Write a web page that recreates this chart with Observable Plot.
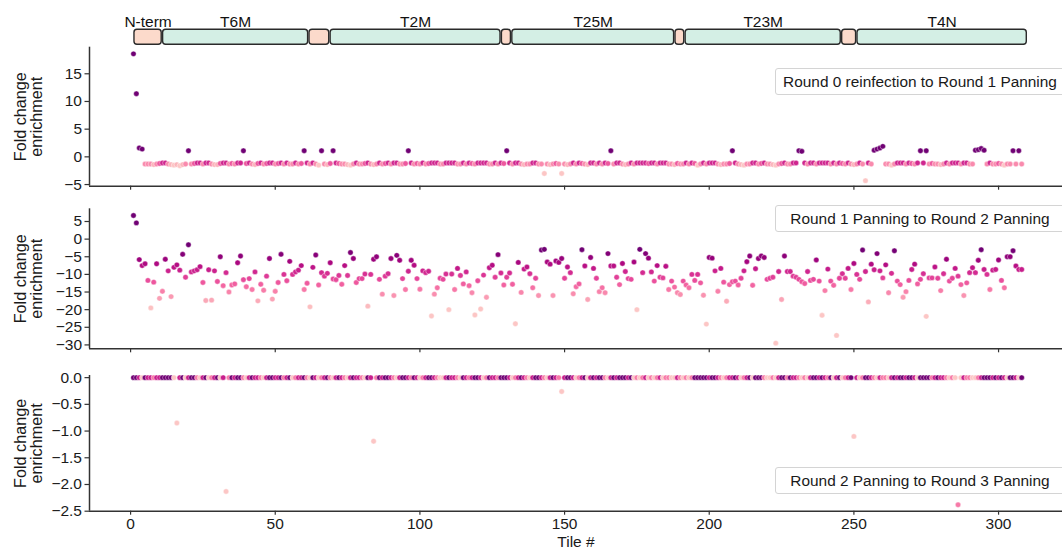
<!DOCTYPE html>
<html>
<head>
<meta charset="utf-8">
<script src="https://cdn.jsdelivr.net/npm/d3@7"></script>
<script src="https://cdn.jsdelivr.net/npm/@observablehq/plot@0.6"></script>
<style>
  html, body { margin: 0; padding: 0; background: #fff; }
  #wrap { position: relative; width: 1062px; height: 549px; overflow: hidden; background: #fff;
          font-family: "Liberation Sans", Arial, Helvetica, sans-serif; color: #1a1a1a; }
  .slot { position: absolute; left: 0; }
  .leg { position: absolute; left: 775px; width: 288px; height: 25px; line-height: 25px;
         border: 1px solid #d4d4d4; border-radius: 3px; background: #fff; text-align: center;
         font-size: 15.4px; white-space: nowrap; z-index: 5; }
</style>
</head>
<body>
<div id="wrap">
  <div class="slot" id="bar" style="top:0px"></div>
  <div class="slot" id="p1" style="top:40px"></div>
  <div class="slot" id="p2" style="top:200px"></div>
  <div class="slot" id="p3" style="top:360px"></div>
  <div class="leg" style="top:68px">Round 0 reinfection to Round 1 Panning</div>
  <div class="leg" style="top:205px">Round 1 Panning to Round 2 Panning</div>
  <div class="leg" style="top:467px">Round 2 Panning to Round 3 Panning</div>
</div>
<script>
// ---------- data ----------
const domainNames = ["N-term", "T6M", "", "T2M", "", "T25M", "", "T23M", "", "T4N"];
const domainKind  = ["linker", "domain", "linker", "domain", "linker", "domain", "linker", "domain", "linker", "domain"];
const domainStart = [1.1, 11.0, 61.6, 68.9, 128.1, 131.7, 188.1, 191.6, 245.7, 251.0];
const domainEnd   = [11.0, 61.6, 68.9, 128.1, 131.7, 188.1, 191.6, 245.7, 251.0, 310.0];

const xTicks = [0, 50, 100, 150, 200, 250, 300];
const y1Ticks = [-5, 0, 5, 10, 15];
const y2Ticks = [5, 0, -5, -10, -15, -20, -25, -30];
const y3Ticks = [0, -0.5, -1.0, -1.5, -2.0, -2.5];

const panelLabels = ["Round 0 reinfection to Round 1 Panning", "Round 1 Panning to Round 2 Panning", "Round 2 Panning to Round 3 Panning"];

// Round 0 reinfection -> Round 1 Panning (tiles 1..308)
const round1Fold = [
  18.6, 11.4, 1.6, 1.4, -1.3, -1.3, -1.3, -1.4, -1.3, -1.2, -1.1, -1.1, -1.3, -1.4, -1.5, -1.4, -1.6, -1.4, -1.3, 1.1,
  -1.3, -1.2, -1.1, -1.1, -1.3, -1.1, -1.1, -1.3, -1.4, -1.4, -1.2, -1.1, -1.1, -1.3, -1.2, -1.3, -1.1, -1.1, 1.1, -1.2,
  -1.1, -1.3, -1.4, -1.2, -1.1, -1.3, -1.2, -1.1, -1.1, -1.3, -1.2, -1.1, -1.3, -1.1, -1.3, -1.3, -1.1, -1.3, -1.2, 1.1,
  -1.1, -1.3, -1.1, -1.3, -1.5, 1.1, -1.3, -1.4, -1.2, 1.1, -1.1, -1.2, -1.3, -1.3, -1.4, -1.5, -1.3, -1.1, -1.3, -1.3,
  -1.2, -1.1, -1.3, -1.4, -1.3, -1.1, -1.3, -1.2, -1.1, -1.3, -1.1, -1.1, -1.3, -1.3, -1.2, 1.1, -1.1, -1.3, -1.2, -1.3,
  -1.1, -1.3, -1.2, -1.1, -1.1, -1.1, -1.3, -1.3, -1.1, -1.1, -1.1, -1.1, -1.3, -1.3, -1.1, -1.3, -1.1, -1.2, -1.3, -1.1,
  -1.1, -1.1, -1.1, -1.3, -1.3, -1.1, -1.3, -1.1, -1.2, 1.1, -1.1, -1.3, -1.1, -1.1, -1.3, -1.4, -1.3, -1.3, -1.1, -1.1,
  -1.3, -1.3, -3.0, -1.3, -1.4, -1.3, -1.2, -1.3, -3.0, -1.3, -1.4, -1.3, -1.1, -1.3, -1.1, -1.2, -1.3, -1.4, -1.1, -1.1,
  -1.3, -1.1, -1.3, -1.1, -1.2, 1.1, -1.3, -1.1, -1.1, -1.3, -1.4, -1.3, -1.1, -1.3, -1.1, -1.1, -1.1, -1.1, -1.2, -1.1,
  -1.1, -1.3, -1.1, -1.1, -1.1, -1.3, -1.3, -1.4, -1.2, -1.3, -1.3, -1.1, -1.3, -1.1, -1.2, -1.5, -1.3, -1.1, -1.3, -1.1,
  -1.1, -1.1, -1.3, -1.4, -1.3, -1.3, -1.2, 1.1, -1.1, -1.3, -1.4, -1.5, -1.3, -1.3, -1.1, -1.1, -1.3, -1.2, -1.1, -1.3,
  -1.3, -1.4, -1.5, -1.3, -1.2, -1.1, -1.3, -1.3, -1.1, -1.1, 1.1, 1.0, -1.1, -1.3, -1.1, -1.1, -1.3, -1.1, -1.1, -1.1,
  -1.1, -1.3, -1.1, -1.3, -1.1, -1.2, -1.3, -1.1, -1.3, -1.4, -1.3, -1.1, -1.3, -4.3, -1.1, -1.3, 1.2, 1.4, 1.6, 1.9,
  -1.3, -1.3, -1.5, -1.3, -1.1, -1.1, -1.1, -1.3, -1.1, -1.2, -1.3, -1.1, 1.1, -1.1, 1.1, -1.3, -1.2, -1.3, -1.3, -1.4,
  -1.3, -1.1, -1.3, -1.1, -1.1, -1.1, -1.3, -1.1, -1.1, -1.3, -1.3, 1.2, 1.3, 1.5, 1.2, -1.3, -1.1, -1.3, -1.3, -1.2,
  -1.3, -1.5, -1.3, -1.3, 1.1, -1.3, 1.1, -1.3
];

// Round 1 Panning -> Round 2 Panning
const round2Fold = [
  6.7, 4.6, -5.8, -7.5, -7.0, -11.7, -19.5, -12.2, -7.0, -16.8, -14.8, -5.7, -9.0, -16.3, -8.0, -7.3, -8.8, -4.3, -10.8, -1.6,
  -9.3, -9.0, -8.7, -7.8, -12.3, -17.4, -8.7, -17.3, -9.0, -12.0, -5.0, -13.2, -9.5, -15.0, -13.0, -12.7, -6.7, -4.8, -11.5, -13.5,
  -11.2, -14.3, -9.3, -17.5, -12.8, -14.5, -10.5, -5.5, -17.0, -14.8, -12.3, -4.3, -10.0, -11.8, -6.3, -10.0, -9.3, -8.8, -7.5, -14.3,
  -12.5, -19.2, -8.0, -4.5, -13.0, -9.5, -10.5, -9.7, -6.7, -11.3, -11.5, -10.3, -12.8, -7.5, -10.3, -3.8, -5.5, -12.3, -11.2, -11.2,
  -9.9, -19.0, -10.0, -5.7, -5.0, -11.4, -15.6, -10.5, -9.8, -5.5, -16.0, -4.6, -6.0, -11.2, -14.3, -9.1, -6.0, -7.4, -11.2, -14.2,
  -9.0, -9.5, -9.1, -21.8, -15.6, -13.8, -11.1, -11.4, -9.9, -20.0, -9.9, -14.3, -8.3, -10.3, -12.7, -9.3, -13.2, -15.2, -21.5, -11.8,
  -19.8, -10.2, -16.5, -8.1, -7.4, -10.8, -4.4, -9.6, -13.0, -10.8, -9.6, -12.8, -24.0, -6.6, -15.1, -8.5, -7.9, -9.8, -13.8, -11.1,
  -16.0, -3.1, -2.9, -6.5, -7.1, -16.0, -6.2, -6.6, -5.5, -11.1, -7.9, -9.5, -15.5, -13.5, -12.7, -3.0, -7.6, -17.1, -5.2, -8.3,
  -11.1, -14.9, -13.8, -15.2, -4.1, -7.6, -7.6, -10.8, -12.9, -6.9, -9.2, -11.2, -11.4, -6.5, -20.0, -2.9, -9.5, -4.1, -5.4, -9.3,
  -11.9, -7.5, -10.8, -11.0, -7.7, -14.3, -11.9, -13.6, -15.2, -15.7, -11.9, -13.0, -13.8, -10.0, -11.7, -10.0, -12.4, -15.9, -24.1, -5.2,
  -5.4, -9.0, -14.8, -8.3, -12.2, -17.6, -12.9, -12.1, -11.9, -13.0, -11.1, -9.0, -6.4, -4.8, -13.1, -8.4, -5.5, -4.8, -5.2, -11.4,
  -11.1, -10.8, -29.5, -9.2, -17.1, -4.8, -9.2, -9.2, -10.5, -10.8, -11.4, -12.1, -12.6, -9.2, -11.7, -11.4, -5.9, -11.9, -21.6, -14.6,
  -8.5, -11.9, -13.1, -27.3, -11.1, -9.8, -11.1, -8.3, -14.3, -6.9, -10.0, -11.4, -3.1, -9.2, -17.8, -7.1, -8.7, -4.1, -9.0, -11.0,
  -7.3, -15.2, -9.7, -3.3, -11.9, -12.9, -16.5, -14.9, -11.7, -8.6, -7.1, -12.7, -11.4, -9.8, -21.9, -11.0, -11.0, -7.9, -11.1, -14.6,
  -9.8, -5.7, -11.9, -11.1, -8.3, -10.5, -12.9, -16.0, -12.4, -9.5, -8.1, -9.5, -6.0, -3.0, -8.6, -10.0, -14.3, -8.8, -8.6, -5.9,
  -11.7, -13.8, -5.0, -5.0, -3.3, -7.6, -8.6, -8.6
];

// Round 2 Panning -> Round 3 Panning
const round3Fold = [
  0, 0, 0, 0, 0, 0, 0, 0, 0, 0, 0, 0, 0, 0, 0, -0.85, 0, 0, 0, 0,
  0, 0, 0, 0, 0, 0, 0, 0, 0, 0, 0, 0, -2.13, 0, 0, 0, 0, 0, 0, 0,
  0, 0, 0, 0, 0, 0, 0, 0, 0, 0, 0, 0, 0, 0, 0, 0, 0, 0, 0, 0,
  0, 0, 0, 0, 0, 0, 0, 0, 0, 0, 0, 0, 0, 0, 0, 0, 0, 0, 0, 0,
  0, 0, 0, -1.19, 0, 0, 0, 0, 0, 0, 0, 0, 0, 0, 0, 0, 0, 0, 0, 0,
  0, 0, 0, 0, 0, 0, 0, 0, 0, 0, 0, 0, 0, 0, 0, 0, 0, 0, 0, 0,
  0, 0, 0, 0, 0, 0, 0, 0, 0, 0, 0, 0, 0, 0, 0, 0, 0, 0, 0, 0,
  0, 0, 0, 0, 0, 0, 0, 0, -0.26, 0, 0, 0, 0, 0, 0, 0, 0, 0, 0, 0,
  0, 0, 0, 0, 0, 0, 0, 0, 0, 0, 0, 0, 0, 0, 0, 0, 0, 0, 0, 0,
  0, 0, 0, 0, 0, 0, 0, 0, 0, 0, 0, 0, 0, 0, 0, 0, 0, 0, 0, 0,
  0, 0, 0, 0, 0, 0, 0, 0, 0, 0, 0, 0, 0, 0, 0, 0, 0, 0, 0, 0,
  0, 0, 0, 0, 0, 0, 0, 0, 0, 0, 0, 0, 0, 0, 0, 0, 0, 0, 0, 0,
  0, 0, 0, 0, 0, 0, 0, 0, 0, -1.1, 0, 0, 0, 0, 0, 0, 0, 0, 0, 0,
  0, 0, 0, 0, 0, 0, 0, 0, 0, 0, 0, 0, 0, 0, 0, 0, 0, 0, 0, 0,
  0, 0, 0, 0, 0, -2.38, 0, 0, 0, 0, 0, 0, 0, 0, 0, 0, 0, 0, 0, 0,
  0, 0, 0, 0, 0, 0, 0, 0
];
// colour shade (0 light .. 3 dark) of each round-3 dot
const round3Shade = [
  3, 3, 2, 0, 3, 2, 2, 1, 2, 2, 3, 3, 3, 3, 0, 0, 2, 3, 0, 2,
  3, 3, 1, 0, 2, 3, 0, 1, 2, 3, 0, 2, 0, 1, 3, 2, 3, 3, 1, 0,
  2, 3, 2, 2, 1, 0, 2, 3, 3, 2, 2, 3, 1, 2, 3, 0, 1, 2, 2, 3,
  1, 0, 3, 2, 0, 1, 2, 3, 1, 0, 2, 3, 2, 1, 0, 2, 3, 2, 2, 1,
  0, 3, 2, 0, 1, 3, 2, 3, 3, 2, 1, 0, 2, 3, 3, 2, 1, 3, 2, 0,
  1, 2, 3, 3, 2, 1, 0, 0, 2, 3, 2, 2, 1, 0, 3, 2, 1, 2, 3, 3,
  2, 0, 1, 3, 2, 2, 1, 3, 3, 3, 2, 0, 1, 2, 3, 2, 1, 0, 2, 3,
  3, 2, 1, 0, 2, 3, 2, 1, 0, 2, 3, 3, 2, 0, 1, 2, 3, 0, 2, 3,
  2, 3, 3, 1, 0, 2, 3, 2, 3, 3, 3, 2, 3, 0, 1, 0, 1, 2, 0, 1,
  0, 1, 2, 0, 1, 1, 0, 0, 2, 1, 0, 1, 0, 1, 3, 3, 3, 3, 3, 2,
  3, 3, 2, 1, 0, 1, 2, 2, 3, 2, 0, 1, 2, 3, 0, 3, 3, 3, 1, 0,
  0, 1, 0, 2, 3, 3, 1, 3, 2, 2, 1, 0, 1, 0, 2, 3, 3, 2, 3, 2,
  1, 3, 0, 2, 3, 0, 1, 2, 3, 0, 2, 0, 1, 3, 3, 2, 1, 0, 2, 1,
  1, 0, 2, 3, 2, 3, 3, 2, 3, 3, 2, 0, 3, 3, 3, 3, 1, 2, 3, 2,
  2, 1, 0, 1, 0, 1, 0, 2, 1, 1, 0, 0, 1, 2, 3, 3, 3, 2, 3, 2,
  3, 2, 0, 3, 3, 2, 0, 3
];

// ---------- layout / style ----------
const FONT = '"Liberation Sans", Arial, Helvetica, sans-serif';
const xDomain = [-14.2, 322.1];
const W = 1062, ML = 89, MR = 0;
const ink = "#262626";
const interp = t => d3.interpolateRdPu(0.24 + 0.66 * t);
const baseStyle = {background: "transparent", overflow: "visible", fontFamily: FONT, color: ink};

// ---------- domain bar ----------
const domains = domainNames.map((name, i) => ({name, kind: domainKind[i], start: domainStart[i], end: domainEnd[i]}));
document.getElementById("bar").append(Plot.plot({
  width: W, height: 47, marginLeft: ML, marginRight: MR, marginTop: 29.3, marginBottom: 2.7,
  style: baseStyle,
  x: {domain: xDomain, axis: null},
  color: {type: "ordinal", domain: ["linker", "domain"], range: ["#fcdacb", "#d4efe5"]},
  marks: [
    Plot.rect(domains, {x1: "start", x2: "end", fill: "kind", stroke: "#2a2a2a", strokeWidth: 1.4, rx: 3, insetLeft: 0.7, insetRight: 0.7}),
    Plot.text(domains.filter(d => d.name), {x: d => (d.start + d.end) / 2, text: "name", frameAnchor: "top", lineAnchor: "middle", dy: -7.6, fontSize: 15.5, fill: "#111"})
  ]
}));

// ---------- panels ----------
function panel(el, values, opts) {
  const data = values.map((v, i) => ({tile: i + 1, v, c: opts.shade ? opts.shade[i] : v}));
  const marks = [
    Plot.ruleX([xDomain[0]], {stroke: "#333", strokeWidth: 1.5}),
    Plot.ruleY([opts.yDomain[0]], {stroke: "#333", strokeWidth: 1.5}),
    Plot.axisY({ticks: opts.yTicks, tickSize: 4.5, tickPadding: 3, fontSize: 15.5, label: null, tickFormat: opts.yFormat, stroke: "#333", strokeWidth: 1.2, fill: "#1a1a1a"}),
    Plot.axisX({ticks: xTicks, tickSize: 4, tickPadding: 3, fontSize: 15.5, label: null,
                tickFormat: opts.xLabels ? d3.format("d") : () => "", stroke: "#333", strokeWidth: 1.2, fill: "#1a1a1a"}),
    Plot.dot(data, {x: "tile", y: "v", r: 2.7, fill: "c", stroke: "white", strokeWidth: 0.4}),
    Plot.text(["Fold change\nenrichment"], {text: d => d, frameAnchor: "left", dx: -61, rotate: -90,
               textAnchor: "middle", lineAnchor: "middle", lineHeight: 1.0, fontSize: 16.2, fill: "#1a1a1a"})
  ];
  if (opts.xLabels) {
    marks.push(Plot.text(["Tile #"], {text: d => d, frameAnchor: "bottom", dy: 30.5, lineAnchor: "middle", fontSize: 15.5, fill: "#1a1a1a"}));
  }
  document.getElementById(el).append(Plot.plot({
    width: W, height: opts.height, marginLeft: ML, marginRight: MR, marginTop: opts.mt, marginBottom: opts.mb,
    style: baseStyle,
    x: {domain: xDomain},
    y: {domain: opts.yDomain},
    color: {type: "linear", domain: opts.cDomain, interpolate: interp, clamp: true},
    marks
  }));
}

panel("p1", round1Fold, {height: 160, mt: 6.7, mb: 14.3, yDomain: [-5.3, 19.8], yTicks: y1Ticks, cDomain: [-1.45, -0.9]});
panel("p2", round2Fold, {height: 160, mt: 8.3, mb: 11.7, yDomain: [-31.1, 8.6], yTicks: y2Ticks, cDomain: [-20, -3]});
panel("p3", round3Fold, {height: 189, mt: 15, mb: 38.3, yDomain: [-2.5, 0.04], yTicks: y3Ticks, yFormat: d3.format(".1f"),
                         cDomain: [0, 3], shade: round3Shade, xLabels: true});
</script>
</body>
</html>
